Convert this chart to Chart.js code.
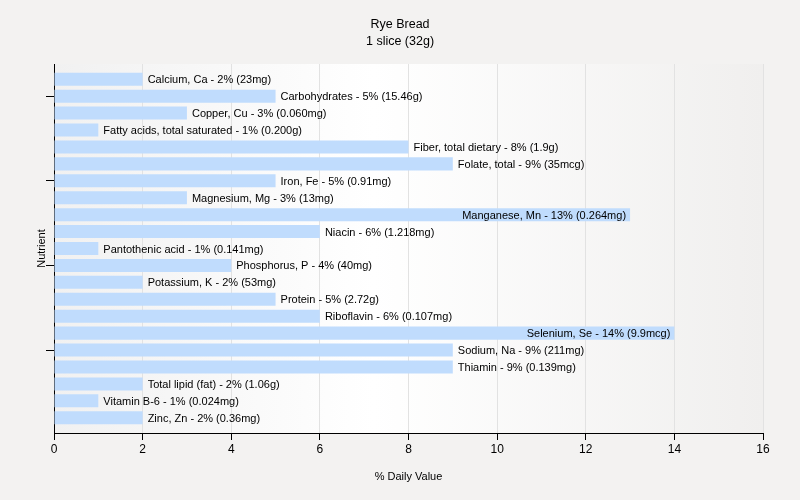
<!DOCTYPE html>
<html>
<head>
<meta charset="utf-8">
<script src="https://cdn.jsdelivr.net/npm/chart.js@4"></script>
<style>
  html, body { margin: 0; padding: 0; background: #f3f2f1; }
</style>
</head>
<body>
<canvas id="chart" width="800" height="500"></canvas>
<script>
// nutrient names, % daily value, and the amount shown in each label
const nutrients = ["Calcium, Ca", "Carbohydrates", "Copper, Cu", "Fatty acids, total saturated",
  "Fiber, total dietary", "Folate, total", "Iron, Fe", "Magnesium, Mg", "Manganese, Mn", "Niacin",
  "Pantothenic acid", "Phosphorus, P", "Potassium, K", "Protein", "Riboflavin", "Selenium, Se",
  "Sodium, Na", "Thiamin", "Total lipid (fat)", "Vitamin B-6", "Zinc, Zn"];
const dailyValues = [2, 5, 3, 1, 8, 9, 5, 3, 13, 6, 1, 4, 2, 5, 6, 14, 9, 9, 2, 1, 2];
const amounts = ["23mg", "15.46g", "0.060mg", "0.200g", "1.9g", "35mcg", "0.91mg", "13mg", "0.264mg",
  "1.218mg", "0.141mg", "40mg", "53mg", "2.72g", "0.107mg", "9.9mcg", "211mg", "0.139mg", "1.06g",
  "0.024mg", "0.36mg"];
const xTicks = [0, 2, 4, 6, 8, 10, 12, 14, 16];

const FONT = "'Liberation Sans', Arial, sans-serif";

// plot background: soft horizontal gradient
const bgPlugin = {
  id: 'plotBg',
  beforeDraw(chart) {
    const { ctx, chartArea: a } = chart;
    const g = ctx.createLinearGradient(a.left, 0, a.right, 0);
    g.addColorStop(0, '#f1f1f1');
    g.addColorStop(0.45, '#ffffff');
    g.addColorStop(1, '#f0efee');
    ctx.save();
    ctx.fillStyle = g;
    ctx.fillRect(a.left, a.top, a.right - a.left, a.bottom - a.top);
    ctx.restore();
  }
};

// bar labels: after the bar, or inside it when it would run past the plot
const labelPlugin = {
  id: 'barLabels',
  afterDatasetsDraw(chart) {
    const { ctx, chartArea: a } = chart;
    const meta = chart.getDatasetMeta(0);
    ctx.save();
    ctx.font = "11px " + FONT;
    ctx.fillStyle = '#000';
    ctx.textBaseline = 'middle';
    meta.data.forEach((bar, i) => {
      const text = nutrients[i] + " - " + dailyValues[i] + "% (" + amounts[i] + ")";
      const w = ctx.measureText(text).width;
      if (bar.x + 5 + w > a.right) {
        ctx.textAlign = 'right';
        ctx.fillText(text, bar.x - 4, bar.y + 1);
      } else {
        ctx.textAlign = 'left';
        ctx.fillText(text, bar.x + 5, bar.y + 1);
      }
    });
    ctx.restore();
  }
};

new Chart(document.getElementById("chart"), {
  type: 'bar',
  data: {
    datasets: [{
      data: dailyValues.map((v, i) => ({ x: v, y: i })),
      backgroundColor: '#c0dcfd',
      borderWidth: 0,
      barPercentage: 0.77,
      categoryPercentage: 1
    }]
  },
  options: {
    indexAxis: 'y',
    responsive: false,
    animation: false,
    devicePixelRatio: 1,
    layout: { padding: 0 },
    plugins: {
      legend: { display: false },
      tooltip: { enabled: false },
      title: {
        display: true,
        text: ["Rye Bread", "1 slice (32g)"],
        color: '#000',
        font: { family: FONT, size: 12.5, weight: 'normal', lineHeight: 1.36 },
        padding: { top: 16, bottom: 14 }
      }
    },
    scales: {
      x: {
        type: 'linear',
        min: 0, max: 16,
        afterBuildTicks(axis) { axis.ticks = xTicks.map(v => ({ value: v })); },
        afterFit(axis) { axis.height = 67; },
        ticks: { color: '#000', font: { family: FONT, size: 12 }, padding: 2 },
        grid: { color: '#e2e2e2', tickColor: '#000', tickLength: 7 },
        border: { color: '#000', width: 1 },
        title: { display: true, text: '% Daily Value', color: '#000',
                 font: { family: FONT, size: 11 }, padding: { top: 0, bottom: 16 } }
      },
      y: {
        type: 'linear',
        reverse: true,
        offset: false,
        min: -0.9,
        max: nutrients.length - 0.1,
        afterBuildTicks(axis) { axis.ticks = nutrients.map((_, i) => ({ value: i })); },
        afterFit(axis) { axis.width = 54; },
        ticks: { callback: () => '', padding: 0 },
        grid: {
          offset: false,
          drawOnChartArea: false,
          tickLength: 8,
          color: (c) => (c.tick && (c.tick.value - 1) % 5 === 0 ? '#000' : 'rgba(0,0,0,0)')
        },
        border: { color: '#000', width: 1 },
        title: { display: true, text: 'Nutrient', color: '#000',
                 font: { family: FONT, size: 11 }, padding: { top: 35, bottom: 0 } }
      },
      // empty right-hand margin so the title stays centred on the canvas
      yRight: {
        type: 'linear',
        position: 'right',
        afterFit(axis) { axis.width = 37; },
        ticks: { display: false },
        grid: { display: false },
        border: { display: false }
      }
    }
  },
  plugins: [bgPlugin, labelPlugin]
});
</script>
</body>
</html>
